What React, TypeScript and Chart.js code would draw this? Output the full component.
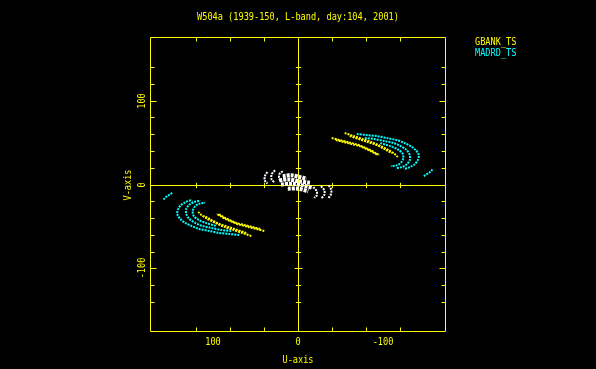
import React, { useEffect, useRef } from "react";
import { Chart, registerables } from "chart.js";

Chart.register(...registerables);

const TITLE = "W504a (1939-150, L-band, day:104, 2001)";
const X_LABEL = "U-axis";
const Y_LABEL = "V-axis";
const LEGEND_LABELS = ["GBANK_TS", "MADRD_TS"];
const U_MIN = -174;
const U_MAX = 174;
const V_MIN = -176;
const V_MAX = 176;
const TICK_STEP = 20;
const MAJOR_STEP = 100;
const TICK_LABEL_VALUES = [100, 0, -100];

const YELLOW = "#ffff00";
const CYAN = "#00ffff";
const WHITE = "#ffffff";

type P = [number, number];

// GBANK_TS tracks (u, v) — negative-u lobe
const gbankA: P[] = [[-39.6, 55.4], [-49.1, 53.0], [-58.5, 50.6], [-67.9, 48.2], [-77.3, 44.6], [-85.5, 41.0], [-91.4, 37.4], [-96.1, 35.0]];
const gbankA2: P[] = [[-44.4, 53.0], [-53.8, 50.6], [-63.2, 48.2], [-72.6, 45.8], [-80.8, 42.2], [-87.9, 38.6], [-93.8, 35.0]];
const gbankB: P[] = [[-54.9, 61.4], [-65.5, 57.8], [-76.1, 54.2], [-86.7, 50.6], [-97.3, 45.8], [-106.7, 41.0], [-113.8, 36.2], [-117.3, 32.7]];
const gbankB2: P[] = [[-60.8, 57.8], [-71.4, 54.2], [-82.0, 50.6], [-92.6, 47.0], [-102.0, 42.2], [-110.2, 37.4]];
// GBANK_TS conjugate tracks — positive-u lobe
const gbankAc: P[] = [[39.6, -55.4], [49.1, -53.0], [58.5, -50.6], [67.9, -48.2], [77.3, -44.6], [85.5, -41.0], [91.4, -37.4], [96.1, -35.0]];
const gbankA2c: P[] = [[44.4, -53.0], [53.8, -50.6], [63.2, -48.2], [72.6, -45.8], [80.8, -42.2], [87.9, -38.6], [93.8, -35.0]];
const gbankBc: P[] = [[54.9, -61.4], [65.5, -57.8], [76.1, -54.2], [86.7, -50.6], [97.3, -45.8], [106.7, -41.0], [113.8, -36.2], [117.3, -32.7]];
const gbankB2c: P[] = [[60.8, -57.8], [71.4, -54.2], [82.0, -50.6], [92.6, -47.0], [102.0, -42.2], [110.2, -37.4]];

// MADRD_TS tracks — negative-u lobe
const madrdC1: P[] = [[-69.1, 60.2], [-80.8, 59.0], [-92.6, 57.8], [-104.4, 55.4], [-116.1, 53.0], [-125.5, 49.4], [-132.6, 45.8], [-138.5, 41.0], [-142.0, 35.0], [-140.8, 29.1], [-137.3, 24.3], [-131.4, 20.7], [-124.4, 18.3]];
const madrdC2: P[] = [[-78.5, 55.4], [-90.2, 54.2], [-102.0, 51.8], [-112.6, 49.4], [-120.8, 45.8], [-127.9, 41.0], [-131.4, 35.0], [-131.4, 29.1], [-127.9, 24.3], [-122.0, 20.7], [-114.9, 19.5]];
const madrdC3: P[] = [[-96.7, 49.4], [-108.6, 45.8], [-116.8, 42.2], [-122.7, 37.4], [-123.8, 31.5], [-121.5, 26.7], [-116.8, 23.1], [-109.1, 21.9]];
const madrdC4: P[] = [[-147.9, 10.0], [-151.4, 12.3], [-154.9, 14.7], [-158.5, 18.3]];
// MADRD_TS conjugate tracks — positive-u lobe
const madrdC1c: P[] = [[69.1, -60.2], [80.8, -59.0], [92.6, -57.8], [104.4, -55.4], [116.1, -53.0], [125.5, -49.4], [132.6, -45.8], [138.5, -41.0], [142.0, -35.0], [140.8, -29.1], [137.3, -24.3], [131.4, -20.7], [124.4, -18.3]];
const madrdC2c: P[] = [[78.5, -55.4], [90.2, -54.2], [102.0, -51.8], [112.6, -49.4], [120.8, -45.8], [127.9, -41.0], [131.4, -35.0], [131.4, -29.1], [127.9, -24.3], [122.0, -20.7], [114.9, -19.5]];
const madrdC3c: P[] = [[96.7, -49.4], [108.6, -45.8], [116.8, -42.2], [122.7, -37.4], [123.8, -31.5], [121.5, -26.7], [116.8, -23.1], [109.1, -21.9]];
const madrdC4c: P[] = [[147.9, -10.0], [151.4, -12.3], [154.9, -14.7], [158.5, -18.3]];

// Short baselines (white, unlabeled) near the origin
const shortArcs: P[][] = [
  [[36, 15], [39, 10], [39, 5], [36, 1]],
  [[27, 17], [31, 12], [31, 6], [27, 2]],
  [[18, 16], [22, 12], [22, 7], [19, 3]],
  [[-18, -3], [-22, -8], [-22, -13], [-19, -16]],
  [[-27, -2], [-31, -7], [-31, -12], [-27, -17]],
  [[-36, -1], [-39, -6], [-39, -11], [-36, -16]],
];
const shortBlob: P[][] = [
  [[18, 10], [8, 11], [-2, 9], [-10, 7]],
  [[22, 5], [10, 6], [0, 4], [-14, 2]],
  [[20, 0], [6, 1], [-5, -1], [-17, -4]],
  [[12, -5], [0, -5], [-12, -8]],
];

const gbankTracks = [gbankA, gbankA2, gbankB, gbankB2, gbankAc, gbankA2c, gbankBc, gbankB2c];
const madrdTracks = [madrdC1, madrdC2, madrdC3, madrdC4, madrdC1c, madrdC2c, madrdC3c, madrdC4c];

function track(points: P[], color: string, label: string, width: number, dash: number[]) {
  return {
    label,
    data: points.map(([u, v]) => ({ x: u, y: v })),
    showLine: true,
    fill: false,
    borderColor: color,
    backgroundColor: color,
    borderWidth: width,
    borderDash: dash,
    pointRadius: 0,
    pointHoverRadius: 0,
    tension: 0.3,
  };
}

function drawText(ctx: CanvasRenderingContext2D, text: string, x: number, y: number, color: string, align: CanvasTextAlign = "center", rotate = 0) {
  ctx.save();
  ctx.translate(Math.round(x), Math.round(y));
  if (rotate) ctx.rotate(rotate);
  ctx.scale(0.86, 1);
  ctx.fillStyle = color;
  ctx.font = '10px "DejaVu Sans Mono"';
  ctx.textAlign = align;
  ctx.textBaseline = "alphabetic";
  ctx.fillText(text, 0, 4);
  ctx.restore();
}

const framePlugin = {
  id: "pgframe",
  beforeDatasetsDraw(chart: any) {
    const ctx: CanvasRenderingContext2D = chart.ctx;
    const { left, right, top, bottom } = chart.chartArea;
    const xs = chart.scales.x;
    const ys = chart.scales.y;
    const x0 = Math.round(xs.getPixelForValue(0)) + 0.5;
    const y0 = Math.round(ys.getPixelForValue(0)) + 0.5;
    const L = Math.round(left) + 0.5, R = Math.round(right) - 0.5;
    const T = Math.round(top) + 0.5, B = Math.round(bottom) - 0.5;
    ctx.save();
    ctx.setLineDash([]);
    ctx.lineWidth = 1;
    ctx.strokeStyle = YELLOW;
    ctx.beginPath();
    ctx.rect(L, T, R - L, B - T);
    ctx.moveTo(x0, T); ctx.lineTo(x0, B);
    ctx.moveTo(L, y0); ctx.lineTo(R, y0);
    const xt = (xs.ticks || []).map((t: any) => t.value).filter((v: number) => Math.abs(v % TICK_STEP) < 1e-6);
    const yt = (ys.ticks || []).map((t: any) => t.value).filter((v: number) => Math.abs(v % TICK_STEP) < 1e-6);
    for (const v of xt) {
      const px = Math.round(xs.getPixelForValue(v)) + 0.5;
      const major = Math.abs(v % MAJOR_STEP) < 1e-6;
      const len = major ? 6 : 4;
      ctx.moveTo(px, B); ctx.lineTo(px, B - len);
      ctx.moveTo(px, T); ctx.lineTo(px, T + len);
      if (v !== 0) { ctx.moveTo(px, y0 - len / 1.5); ctx.lineTo(px, y0 + len / 1.5); }
    }
    for (const v of yt) {
      const py = Math.round(ys.getPixelForValue(v)) + 0.5;
      const major = Math.abs(v % MAJOR_STEP) < 1e-6;
      const len = major ? 6 : 4;
      ctx.moveTo(L, py); ctx.lineTo(L + len, py);
      ctx.moveTo(R, py); ctx.lineTo(R - len, py);
      if (v !== 0) { ctx.moveTo(x0 - len / 1.5, py); ctx.lineTo(x0 + len / 1.5, py); }
    }
    ctx.stroke();
    ctx.restore();
  },
  afterDraw(chart: any) {
    const ctx: CanvasRenderingContext2D = chart.ctx;
    const { left, right, top, bottom } = chart.chartArea;
    const xs = chart.scales.x;
    const ys = chart.scales.y;
    const cx = (left + right) / 2;
    const cy = (top + bottom) / 2;
    drawText(ctx, TITLE, cx, 16, YELLOW);
    for (const v of TICK_LABEL_VALUES) {
      drawText(ctx, String(v), xs.getPixelForValue(v), bottom + 9, YELLOW);
      drawText(ctx, String(v), left - 9, ys.getPixelForValue(v), YELLOW, "center", -Math.PI / 2);
    }
    drawText(ctx, X_LABEL, cx, bottom + 27, YELLOW);
    drawText(ctx, Y_LABEL, left - 23, cy, YELLOW, "center", -Math.PI / 2);
    drawText(ctx, LEGEND_LABELS[0], right + 29, 41, YELLOW, "left");
    drawText(ctx, LEGEND_LABELS[1], right + 29, 52, CYAN, "left");
  },
};

export default function App() {
  const ref = useRef<HTMLCanvasElement>(null);
  useEffect(() => {
    document.body.style.margin = "0";
    document.body.style.background = "#000";
    const datasets: any[] = [];
    shortArcs.forEach((t) => datasets.push(track(t, WHITE, "short", 2, [2, 1])));
    shortBlob.forEach((t) => datasets.push(track(t, WHITE, "short", 4, [3, 1])));
    gbankTracks.forEach((t) => datasets.push(track(t, YELLOW, LEGEND_LABELS[0], 2, [2, 1])));
    madrdTracks.forEach((t) => datasets.push(track(t, CYAN, LEGEND_LABELS[1], 2, [2, 1])));
    const chart = new Chart(ref.current as HTMLCanvasElement, {
      type: "scatter",
      data: { datasets },
      options: {
        animation: false,
        responsive: false,
        devicePixelRatio: 1,
        layout: { padding: { left: 150, right: 150, top: 37, bottom: 37 } },
        plugins: { legend: { display: false }, tooltip: { enabled: false }, title: { display: false } },
        scales: {
          x: { type: "linear", display: false, reverse: true, min: U_MIN, max: U_MAX, ticks: { stepSize: TICK_STEP } },
          y: { type: "linear", display: false, min: V_MIN, max: V_MAX, ticks: { stepSize: TICK_STEP } },
        },
      },
      plugins: [framePlugin],
    });
    return () => chart.destroy();
  }, []);
  return (
    <div style={{ position: "fixed", left: 0, top: 0, width: 596, height: 369, background: "#000" }}>
      <canvas ref={ref} width={596} height={369} style={{ display: "block", width: 596, height: 369 }} />
    </div>
  );
}
